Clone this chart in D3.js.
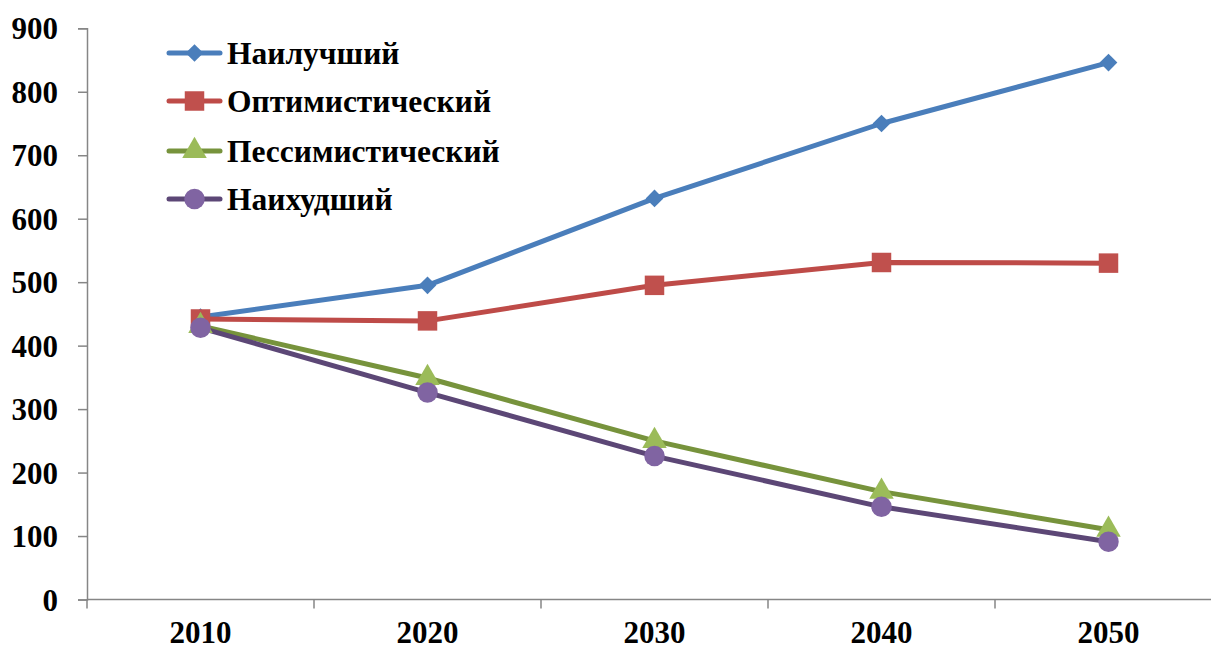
<!DOCTYPE html>
<html>
<head>
<meta charset="utf-8">
<script src="https://cdn.jsdelivr.net/npm/d3@7"></script>
<style>
  html, body { margin: 0; padding: 0; background: #fff; }
  svg text { font-family: "Liberation Serif", "Times New Roman", serif; font-weight: bold; fill: #000; }
</style>
</head>
<body>
<svg id="chart" width="1211" height="650"></svg>
<script>
// Scenario forecast, 2010–2050
const years = ["2010", "2020", "2030", "2040", "2050"];
const yTicks = [0, 100, 200, 300, 400, 500, 600, 700, 800, 900];

const seriesNames = ["Наилучший", "Оптимистический", "Пессимистический", "Наихудший"];
const best        = [445, 495, 632, 750, 846];
const optimistic  = [442, 439, 495, 531, 530];
const pessimistic = [431, 349, 250, 170, 110];
const worst       = [428, 326, 226, 146, 91];

const lineColors   = ["#4A7EBB", "#BE4B48", "#77933C", "#5C4776"];
const markerColors = ["#4A7EBB", "#C0504D", "#9BBB59", "#8064A2"];
const markerShapes = [d3.symbolDiamond2, d3.symbolSquare, d3.symbolTriangle, d3.symbolCircle];
const markerSizes  = [200, 380, 260, 330];

const series = [best, optimistic, pessimistic, worst].map((values, i) => ({
  name: seriesNames[i],
  values,
  line: lineColors[i],
  fill: markerColors[i],
  shape: markerShapes[i],
  size: markerSizes[i]
}));

const svg = d3.select("#chart");

const x = d3.scaleBand().domain(years).range([87, 87 + 227 * years.length]).padding(0);
const y = d3.scaleLinear().domain([0, 900]).range([599.5, 28.3]);

const axisColor = "#868686";

// Y axis
const yAxis = svg.append("g")
  .attr("transform", "translate(87,0)")
  .call(d3.axisLeft(y).tickValues(yTicks).tickSize(9).tickPadding(20).tickFormat(d3.format("d")));
yAxis.select(".domain").attr("stroke", axisColor).attr("stroke-width", 1.5);
yAxis.selectAll(".tick line").attr("stroke", axisColor).attr("stroke-width", 1.5);
yAxis.selectAll(".tick text").style("font-size", "31px").attr("dy", "0.34em");

// X axis: ticks sit on the band boundaries, labels at band centres
const xAxisG = svg.append("g").attr("transform", `translate(0,${y(0)})`);
xAxisG.append("line")
  .attr("x1", 87).attr("x2", 1211)
  .attr("stroke", axisColor).attr("stroke-width", 1.5);
const boundaries = years.map(d => x(d)).concat([x(years[years.length - 1]) + x.bandwidth()]);
xAxisG.selectAll("line.tick")
  .data(boundaries)
  .join("line")
  .attr("class", "tick")
  .attr("x1", d => d).attr("x2", d => d)
  .attr("y1", 0).attr("y2", 9)
  .attr("stroke", axisColor).attr("stroke-width", 1.5);
xAxisG.selectAll("text")
  .data(years)
  .join("text")
  .attr("x", d => x(d) + x.bandwidth() / 2)
  .attr("y", 43.5)
  .attr("text-anchor", "middle")
  .style("font-size", "31px")
  .text(d => d);

const cx = (d, i) => x(years[i]) + x.bandwidth() / 2;
const line = d3.line().x(cx).y(d => y(d));

// Lines
svg.append("g").selectAll("path")
  .data(series)
  .join("path")
  .attr("d", s => line(s.values))
  .attr("fill", "none")
  .attr("stroke", s => s.line)
  .attr("stroke-width", 5)
  .attr("stroke-linejoin", "round");

// Markers
series.forEach(s => {
  const sym = d3.symbol().type(s.shape).size(s.size);
  svg.append("g").selectAll("path")
    .data(s.values)
    .join("path")
    .attr("d", sym)
    .attr("transform", (d, i) => `translate(${cx(d, i)},${y(d)})`)
    .attr("fill", s.fill);
});

// Legend
const legend = svg.append("g");
const rowY = [53, 101, 151, 199];
series.forEach((s, i) => {
  const g = legend.append("g").attr("transform", `translate(0,${rowY[i]})`);
  g.append("line")
    .attr("x1", 169).attr("x2", 220)
    .attr("stroke", s.line).attr("stroke-width", 5)
    .attr("stroke-linecap", "round");
  g.append("path")
    .attr("d", d3.symbol().type(s.shape).size(s.size))
    .attr("transform", "translate(194.5,0)")
    .attr("fill", s.fill);
  g.append("text")
    .attr("x", 227)
    .attr("dy", "0.35em")
    .style("font-size", "31.5px")
    .text(s.name);
});
</script>
</body>
</html>
